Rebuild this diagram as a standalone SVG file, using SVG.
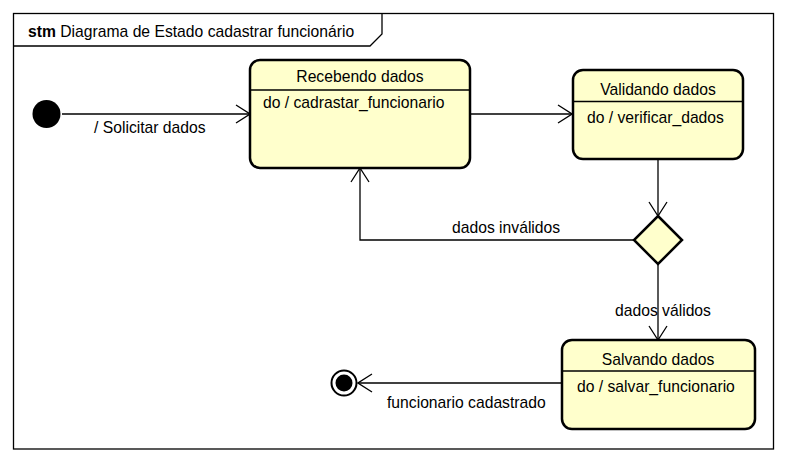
<svg xmlns="http://www.w3.org/2000/svg" width="788" height="462" viewBox="0 0 788 462">
<style>
text{font-family:"Liberation Sans",Arial,sans-serif;font-size:15.7px;fill:#000}
.st{fill:#FFFFCC;stroke:#000;stroke-width:2.5}
.ln{fill:none;stroke:#000;stroke-width:1.3}
.c{text-anchor:middle}
</style>
<defs>
<marker id="ah" viewBox="0 0 16 20" refX="15" refY="10" markerWidth="16" markerHeight="20" markerUnits="userSpaceOnUse" orient="auto">
<path d="M1,1 L15,10 L1,19" fill="none" stroke="#000" stroke-width="1.3"/>
</marker>
</defs>
<rect width="788" height="462" fill="#fff"/>
<g id="frame">
<rect x="13.5" y="13.5" width="760" height="435.5" fill="none" stroke="#000" stroke-width="1.3"/>
<path d="M13.5,46 L370,46 L382,34 L382,13.5" class="ln"/>
<text x="28" y="37"><tspan font-weight="bold">stm</tspan> Diagrama de Estado cadastrar funcionário</text>
</g>
<g id="connectors">
<line x1="62" y1="114" x2="250" y2="114" class="ln" marker-end="url(#ah)"/>
<line x1="470" y1="114" x2="572" y2="114" class="ln" marker-end="url(#ah)"/>
<line x1="658" y1="159" x2="658" y2="216" class="ln" marker-end="url(#ah)"/>
<polyline points="634,240 360,240 360,168" class="ln" marker-end="url(#ah)"/>
<line x1="658" y1="264" x2="658" y2="340" class="ln" marker-end="url(#ah)"/>
<line x1="562" y1="383" x2="358" y2="383" class="ln" marker-end="url(#ah)"/>
<text x="94" y="133">/ Solicitar dados</text>
<text x="452" y="233">dados inválidos</text>
<text x="615" y="316">dados válidos</text>
<text x="387" y="408">funcionario cadastrado</text>
</g>
<g id="initial">
<circle cx="46.5" cy="114" r="14" fill="#000"/>
</g>
<g id="recebendo">
<rect x="250" y="60" width="220" height="108" rx="10" class="st"/>
<line x1="250" y1="90" x2="470" y2="90" stroke="#000" stroke-width="1.3"/>
<text x="360" y="82" class="c">Recebendo dados</text>
<text x="263" y="108">do / cadrastar_funcionario</text>
</g>
<g id="validando">
<rect x="573" y="70" width="170" height="89" rx="10" class="st"/>
<line x1="573" y1="101.5" x2="743" y2="101.5" stroke="#000" stroke-width="1.3"/>
<text x="658" y="95" class="c">Validando dados</text>
<text x="587" y="123">do / verificar_dados</text>
</g>
<g id="decisao">
<polygon points="658,216 682,240 658,264 634,240" fill="#FFFFCC" stroke="#000" stroke-width="2.5"/>
</g>
<g id="salvando">
<rect x="562" y="340" width="193" height="89" rx="10" class="st"/>
<line x1="562" y1="371" x2="755" y2="371" stroke="#000" stroke-width="1.3"/>
<text x="658" y="365" class="c">Salvando dados</text>
<text x="577" y="392">do / salvar_funcionario</text>
</g>
<g id="final">
<circle cx="344" cy="383" r="12.5" fill="#fff" stroke="#000" stroke-width="2"/>
<circle cx="344" cy="383" r="8.5" fill="#000"/>
</g>
</svg>
